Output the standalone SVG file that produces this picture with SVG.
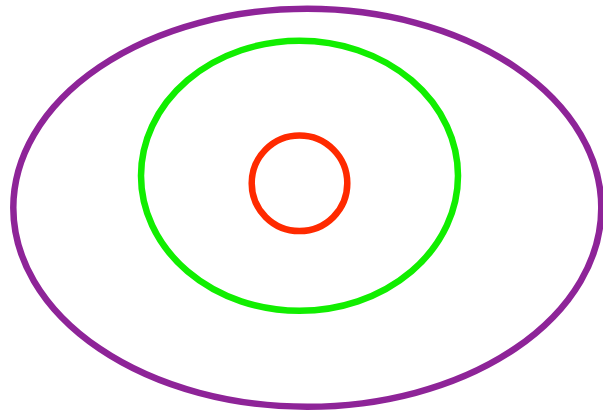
<svg xmlns="http://www.w3.org/2000/svg" width="603" height="414" viewBox="0 0 603 414">
<style>
.ring{fill:none;stroke-width:6.5}
</style>
<rect width="603" height="414" fill="#ffffff"/>
<g id="outer"><ellipse class="ring" cx="307.3" cy="207.8" rx="294" ry="199" stroke="#8E2498"/></g>
<g id="middle"><ellipse class="ring" cx="299.5" cy="175.8" rx="158.5" ry="135" stroke="#11EE00"/></g>
<g id="inner"><circle class="ring" cx="299.5" cy="183.3" r="47.8" stroke="#FF2A00"/></g>
<g id="connectors"></g>
</svg>
